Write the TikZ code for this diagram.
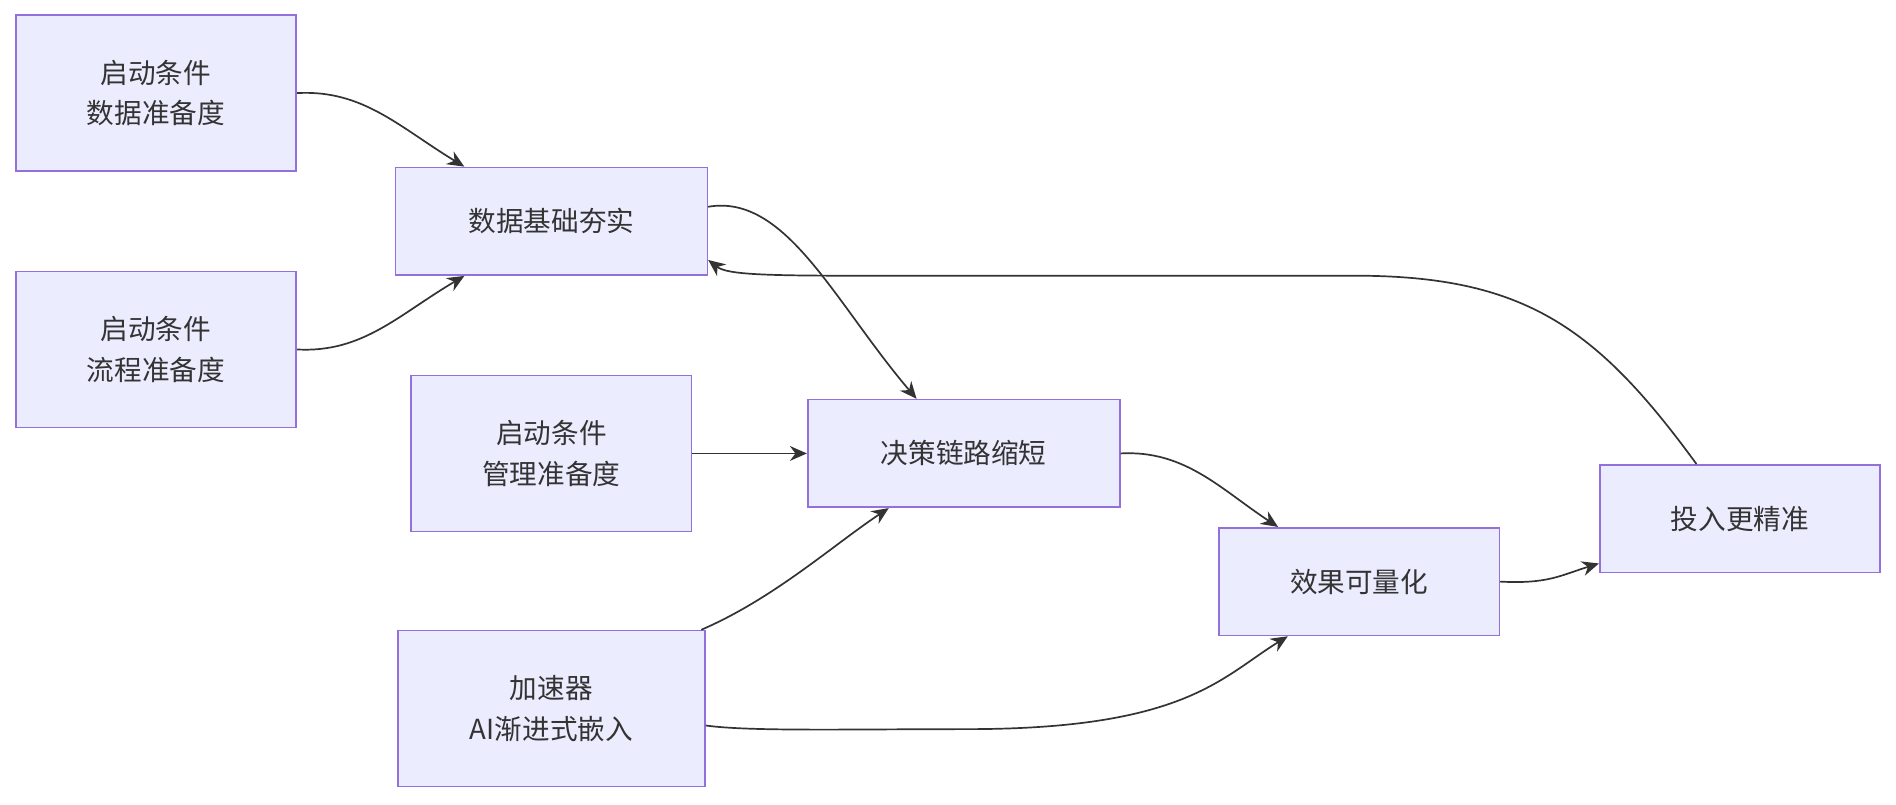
\documentclass[tikz,border=0pt]{standalone}
\usepackage{fontspec}
\newfontfamily\cjk{Noto Sans CJK SC}
\usetikzlibrary{arrows.meta}
\definecolor{boxfill}{HTML}{ECECFF}
\definecolor{boxline}{HTML}{9370DB}
\definecolor{linkcol}{HTML}{333333}
\begin{document}
\begin{tikzpicture}[x=0.02cm,y=-0.02cm,>={Stealth[length=8pt,width=7pt]},
	box/.style={draw=boxline,fill=boxfill,line width=0.8pt,align=center,
		font=\cjk\fontsize{13}{19}\selectfont,text=linkcol,inner sep=0pt},
	wide/.style={minimum width=4.64cm,minimum height=2.58cm},
	flat/.style={minimum height=1.78cm},
	link/.style={->,draw=linkcol,line width=0.8pt},
	]

	\useasboundingbox (0,0) rectangle (1568,665);

	\node[box,wide] (dataready) at (129,77) {启动条件\\数据准备度};
	\node[box,wide] (flowready) at (129,289) {启动条件\\流程准备度};
	\node[box,flat,minimum width=5.16cm] (database) at (456,183) {数据基础夯实};
	\node[box,wide] (mgmtready) at (456,375) {启动条件\\管理准备度};
	\node[box,flat,minimum width=5.16cm] (decision) at (797,375) {决策链路缩短};
	\node[box,wide,minimum width=5.08cm] (accel) at (456,586) {加速器\\AI渐进式嵌入};
	\node[box,flat,minimum width=4.64cm] (effect) at (1124,481) {效果可量化};
	\node[box,flat,minimum width=4.64cm] (invest) at (1439,429) {投入更精准};

	\draw[link] (dataready.east) .. controls (300,74) and (330,105) .. (database.north west -| 384,0);
	\draw[link] (flowready.east) .. controls (300,292) and (330,260) .. (database.south west -| 384,0);
	\draw[link] (database.east |- 0,171) .. controls (650,160) and (690,250) .. (decision.north west -| 758,0);
	\draw[link] (mgmtready) -- (decision);
	\draw[link] (accel.north east -| 580,0) .. controls (640,495) and (690,450) .. (decision.south west -| 735,0);
	\draw[link] (decision.east) .. controls (980,372) and (1010,405) .. (effect.north west -| 1057,0);
	\draw[link] (accel.east |- 0,600) .. controls (620,605) and (700,603) .. (800,603) .. controls (980,603) and (1010,560) .. (effect.south west -| 1065,0);
	\draw[link] (effect.east) .. controls (1280,483) and (1290,476) .. (invest.west |- 0,466);
	\draw[link] (invest.north west -| 1403,0) .. controls (1320,270) and (1260,228) .. (1120,228) -- (700,228) .. controls (620,228) and (600,226) .. (database.east |- 0,215);

\end{tikzpicture}
\end{document}
